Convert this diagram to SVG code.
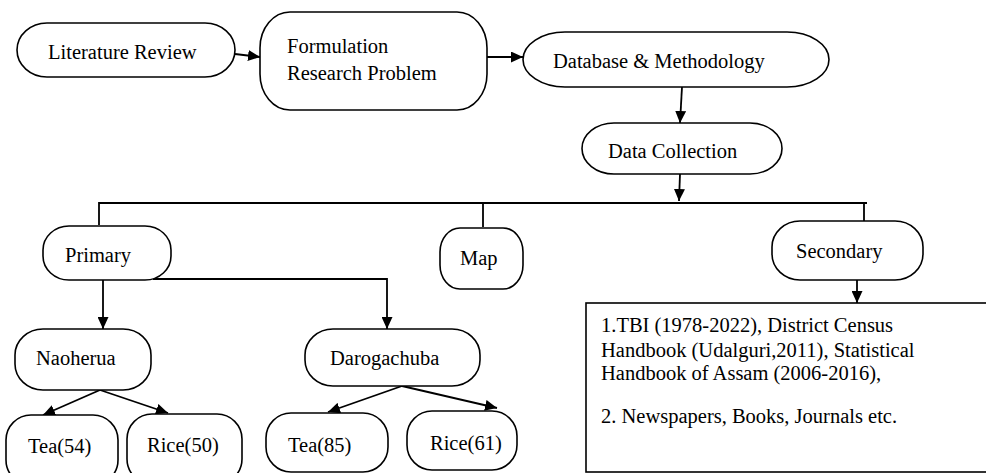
<svg xmlns="http://www.w3.org/2000/svg" width="986" height="473" viewBox="0 0 986 473">
<style>
.n{fill:#fff;stroke:#000;stroke-width:1.6}
.c{fill:none;stroke:#000;stroke-width:1.8}
.a{marker-end:url(#ah)}
</style>
<defs>
<marker id="ah" markerUnits="userSpaceOnUse" markerWidth="13" markerHeight="11" refX="12" refY="5.5" orient="auto">
<path d="M0,0 L12,5.5 L0,11 z" fill="#000"/>
</marker>
</defs>
<rect x="0" y="0" width="986" height="473" fill="#fff"/>
<g id="connectors">
<path class="c a" d="M235,54 L260,57"/>
<path class="c a" d="M487,57 L523,57"/>
<path class="c a" d="M682,87 L680,123"/>
<path class="c a" d="M680,174 L679,201"/>
<path class="c" d="M99,225 L99,203 L867,203 M483,203 L483,227 M864,203 L864,221"/>
<path class="c a" d="M103,280 L103,329"/>
<path class="c a" d="M153,279 L387,279 L387,329"/>
<path class="c a" d="M857,280 L857,303"/>
<path class="c a" d="M100,390 L43,415"/>
<path class="c a" d="M100,390 L168,413"/>
<path class="c a" d="M402,386 L328,412"/>
<path class="c a" d="M402,386 L497,408"/>
</g>
<g id="literature-review">
<rect class="n" x="17" y="23" width="218" height="54" rx="30" ry="27"/>
<text x="48" y="59" font-family="Liberation Serif" font-size="20.5">Literature Review</text>
</g>
<g id="formulation">
<rect class="n" x="260" y="12" width="227" height="98" rx="30" ry="36"/>
<text x="287" y="53" font-family="Liberation Serif" font-size="20.5">Formulation</text>
<text x="287" y="80" font-family="Liberation Serif" font-size="20.5">Research Problem</text>
</g>
<g id="database-methodology">
<rect class="n" x="523" y="32" width="306" height="55" rx="42" ry="27.5"/>
<text x="553" y="68" font-family="Liberation Serif" font-size="20.5">Database &amp; Methodology</text>
</g>
<g id="data-collection">
<rect class="n" x="582" y="123" width="200" height="51" rx="32" ry="25.5"/>
<text x="608" y="158" font-family="Liberation Serif" font-size="20.5">Data Collection</text>
</g>
<g id="primary">
<rect class="n" x="43" y="226" width="128" height="54" rx="26" ry="24"/>
<text x="65" y="262" font-family="Liberation Serif" font-size="20.5">Primary</text>
</g>
<g id="map">
<rect class="n" x="440" y="228" width="83" height="61" rx="20" ry="24"/>
<text x="460" y="265" font-family="Liberation Serif" font-size="20.5">Map</text>
</g>
<g id="secondary">
<rect class="n" x="772" y="221" width="151" height="59" rx="28" ry="26"/>
<text x="796" y="258" font-family="Liberation Serif" font-size="20.5">Secondary</text>
</g>
<g id="sources">
<rect class="n" x="586" y="303" width="410" height="169"/>
<text x="601" y="332" font-family="Liberation Serif" font-size="20.5">1.TBI (1978-2022), District Census</text>
<text x="601" y="357" font-family="Liberation Serif" font-size="20.5">Handbook (Udalguri,2011), Statistical</text>
<text x="601" y="380" font-family="Liberation Serif" font-size="20.5">Handbook of Assam (2006-2016),</text>
<text x="601" y="423" font-family="Liberation Serif" font-size="20.5">2. Newspapers, Books, Journals etc.</text>
</g>
<g id="naoherua">
<rect class="n" x="15" y="329" width="136" height="61" rx="28" ry="26"/>
<text x="36" y="365" font-family="Liberation Serif" font-size="20.5">Naoherua</text>
</g>
<g id="darogachuba">
<rect class="n" x="305" y="329" width="175" height="57" rx="28" ry="26"/>
<text x="330" y="365" font-family="Liberation Serif" font-size="20.5">Darogachuba</text>
</g>
<g id="tea54">
<rect class="n" x="6" y="415" width="112" height="70" rx="25" ry="25"/>
<text x="28" y="453" font-family="Liberation Serif" font-size="20.5">Tea(54)</text>
</g>
<g id="rice50">
<rect class="n" x="127" y="414" width="115" height="70" rx="25" ry="25"/>
<text x="147" y="452" font-family="Liberation Serif" font-size="20.5">Rice(50)</text>
</g>
<g id="tea85">
<rect class="n" x="266" y="413" width="122" height="59" rx="25" ry="25"/>
<text x="288" y="452" font-family="Liberation Serif" font-size="20.5">Tea(85)</text>
</g>
<g id="rice61">
<rect class="n" x="407" y="411" width="110" height="59" rx="25" ry="25"/>
<text x="430" y="450" font-family="Liberation Serif" font-size="20.5">Rice(61)</text>
</g>
</svg>
